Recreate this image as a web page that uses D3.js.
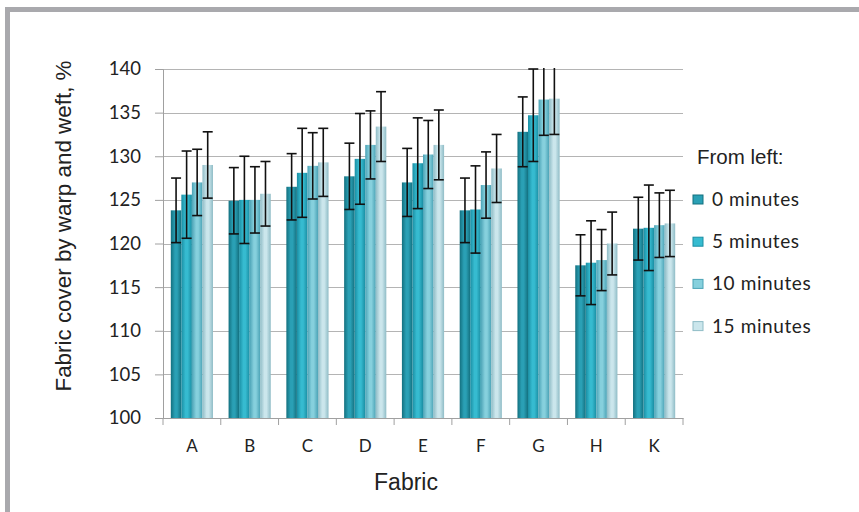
<!DOCTYPE html>
<html><head><meta charset="utf-8">
<script src="https://cdn.jsdelivr.net/npm/d3@7"></script>
<style>body{margin:0;background:#fff;}svg{display:block;}</style>
</head><body>
<svg id="c" width="859" height="512"></svg>
<script>
const categories = ["A","B","C","D","E","F","G","H","K"];
const seriesNames = ["0 minutes","5 minutes","10 minutes","15 minutes"];
const yTicks = [100,105,110,115,120,125,130,135,140];
const values0  = [123.8,124.9,126.5,127.7,127.0,123.8,132.8,117.5,121.7];
const values5  = [125.6,125.0,128.1,129.7,129.2,123.9,134.7,117.8,121.8];
const values10 = [127.0,125.0,128.9,131.3,130.2,126.7,136.5,118.1,122.1];
const values15 = [129.0,125.7,129.3,133.4,131.3,128.6,136.6,120.0,122.3];
const err0  = [3.7,3.8,3.8,3.8,3.9,3.7,4.0,3.5,3.6];
const err5  = [5.0,5.0,5.1,5.2,5.2,5.0,5.3,4.8,4.9];
const err10 = [3.8,3.8,3.8,3.9,3.9,3.8,4.1,3.5,3.7];
const err15 = [3.8,3.7,3.9,4.0,4.0,3.9,4.1,3.6,3.8];
const allValues = [values0, values5, values10, values15];
const allErrs = [err0, err5, err10, err15];

const colors = [
  {edge:"#13707f", mid:"#2aa0b5"},
  {edge:"#1a8ea3", mid:"#36bbd0"},
  {edge:"#4ba3b6", mid:"#86d0dd"},
  {edge:"#8fbcc6", mid:"#cbe6ec"}
];

const svg = d3.select("#c");
// frame
svg.append("rect").attr("x",5).attr("y",7).attr("width",854).attr("height",5).attr("fill","#a9a9ad");
svg.append("rect").attr("x",5).attr("y",7).attr("width",5).attr("height",505).attr("fill","#a9a9ad");

const defs = svg.append("defs");
colors.forEach((c,i)=>{
  const g = defs.append("linearGradient").attr("id","g"+i).attr("x1","0").attr("x2","1").attr("y1","0").attr("y2","0");
  g.append("stop").attr("offset","0%").attr("stop-color",c.edge);
  g.append("stop").attr("offset","40%").attr("stop-color",c.mid);
  g.append("stop").attr("offset","60%").attr("stop-color",c.mid);
  g.append("stop").attr("offset","100%").attr("stop-color",c.edge);
});

const L = 163, R = 683, T = 69, B = 418;
const x0 = d3.scaleBand().domain(categories).range([L,R]).paddingInner(0.27).paddingOuter(0.135);
const x1 = d3.scaleBand().domain(d3.range(4)).range([0,x0.bandwidth()]);
const y = d3.scaleLinear().domain([100,140]).range([B,T]);

defs.append("clipPath").attr("id","clip").append("rect").attr("x",L).attr("y",T-1).attr("width",R-L).attr("height",B-T+1);

// gridlines
svg.append("g").selectAll("line").data(yTicks).join("line")
  .attr("x1",L).attr("x2",R).attr("y1",d=>Math.round(y(d))+0.5).attr("y2",d=>Math.round(y(d))+0.5)
  .attr("stroke","#b4b4b4").attr("stroke-width",1.2);

// y axis
const yAxis = svg.append("g").attr("transform",`translate(${L},0)`)
  .call(d3.axisLeft(y).tickValues(yTicks).tickSize(8).tickPadding(14).tickFormat(d3.format("d")));
yAxis.select(".domain").attr("stroke","#a0a0a0");
yAxis.selectAll(".tick line").attr("stroke","#a0a0a0");
yAxis.selectAll("text").attr("font-family","Lato, 'Open Sans', sans-serif").attr("font-size",18.5).attr("fill","#222");

// bars
const bars = svg.append("g");
categories.forEach((cat,ci)=>{
  allValues.forEach((vals,si)=>{
    const xb = x0(cat)+x1(si);
    bars.append("rect").attr("x",xb).attr("y",y(vals[ci])).attr("width",x1.bandwidth()).attr("height",y(100)-y(vals[ci]))
      .attr("fill",`url(#g${si})`);
  });
});

// error bars
const eb = svg.append("g").attr("clip-path","url(#clip)").attr("stroke","#111").attr("stroke-width",1.6);
categories.forEach((cat,ci)=>{
  allValues.forEach((vals,si)=>{
    const cx = x0(cat)+x1(si)+x1.bandwidth()/2;
    const hi = y(vals[ci]+allErrs[si][ci]), lo = y(vals[ci]-allErrs[si][ci]);
    eb.append("line").attr("x1",cx).attr("x2",cx).attr("y1",hi).attr("y2",lo);
    eb.append("line").attr("x1",cx-5).attr("x2",cx+5).attr("y1",hi).attr("y2",hi);
    eb.append("line").attr("x1",cx-5).attr("x2",cx+5).attr("y1",lo).attr("y2",lo);
  });
});

// x axis
const xAxis = svg.append("g").attr("transform",`translate(0,${B})`)
  .call(d3.axisBottom(x0).tickSize(0).tickPadding(22));
xAxis.select(".domain").attr("stroke","#a0a0a0");
xAxis.selectAll("text").attr("font-family","Lato, 'Open Sans', sans-serif").attr("font-size",17).attr("fill","#222");
const boundaries = categories.map(c=>x0(c)-x0.step()*x0.paddingInner()/2).concat([R]);
boundaries[0] = L;
svg.append("g").selectAll("line").data(boundaries).join("line")
  .attr("x1",d=>d).attr("x2",d=>d).attr("y1",B).attr("y2",B+7).attr("stroke","#a0a0a0");

// axis titles
svg.append("text").attr("transform",`translate(71,226) rotate(-90)`).attr("text-anchor","middle")
  .attr("font-family","'Liberation Sans', Arial, sans-serif").attr("font-size",22.4).attr("fill","#222")
  .text("Fabric cover by warp and weft, %");
svg.append("text").attr("x",406).attr("y",490).attr("text-anchor","middle")
  .attr("font-family","'Liberation Sans', Arial, sans-serif").attr("font-size",23).attr("fill","#222")
  .text("Fabric");

// legend
const leg = svg.append("g");
leg.append("text").attr("x",697).attr("y",164).attr("font-family","'Liberation Sans', Arial, sans-serif").attr("font-size",20.5).attr("fill","#222").text("From left:");
seriesNames.forEach((s,i)=>{
  const yy = 206 + i*42.2;
  leg.append("rect").attr("x",693).attr("y",yy-11).attr("width",10).attr("height",9).attr("fill",colors[i].mid).attr("stroke",colors[i].edge).attr("stroke-width",1);
  leg.append("text").attr("x",712).attr("y",yy).attr("font-family","Lato, 'Open Sans', sans-serif").attr("font-size",19).attr("letter-spacing",0.6).attr("fill","#222").text(s);
});
</script>
</body></html>
